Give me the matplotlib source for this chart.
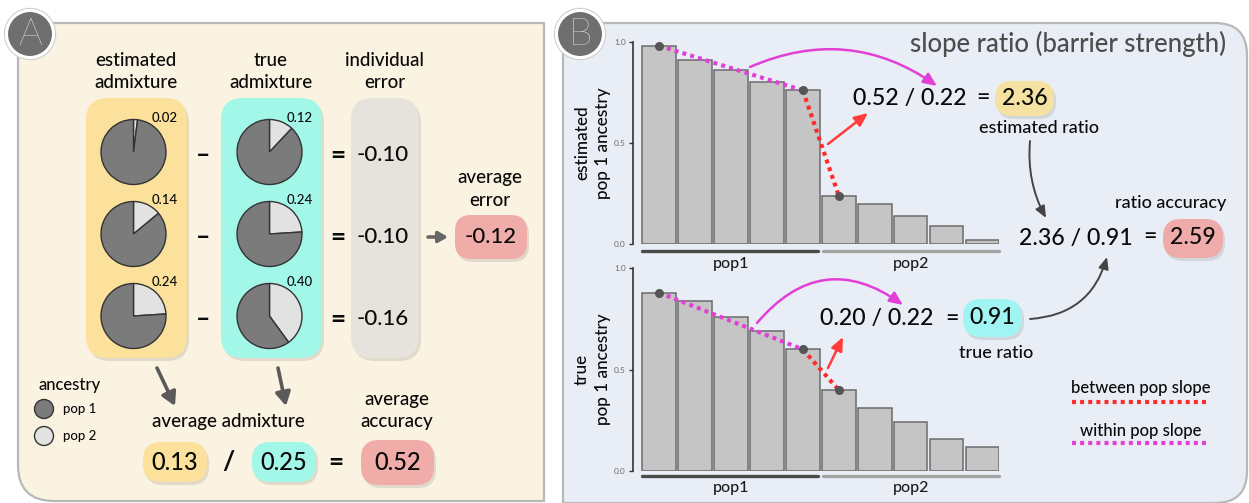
import matplotlib
matplotlib.use("Agg")
import matplotlib.pyplot as plt
from matplotlib.patches import FancyBboxPatch, Circle, PathPatch, FancyArrowPatch
from matplotlib.path import Path

plt.rcParams['font.family'] = ['Lato', 'DejaVu Sans']
plt.rcParams['font.weight'] = 'medium'

# ---------------- data ----------------
est_pop2 = [0.02, 0.14, 0.24]          # estimated admixture (pop 2 share)
true_pop2 = [0.12, 0.24, 0.40]         # true admixture (pop 2 share)
indiv_error = ["-0.10", "-0.10", "-0.16"]
avg_error = "-0.12"
avg_est = "0.13"
avg_true = "0.25"
avg_acc = "0.52"

est_ancestry = [0.98, 0.91, 0.86, 0.80, 0.76, 0.24, 0.20, 0.14, 0.09, 0.02]
true_ancestry = [0.88, 0.84, 0.76, 0.69, 0.60, 0.40, 0.31, 0.24, 0.16, 0.12]
group_names = ["pop1", "pop2"]
yticks = [0.0, 0.5, 1.0]
ytick_labels = ["0.0", "0.5", "1.0"]

est_ratio = ("0.52 / 0.22", "2.36")
true_ratio = ("0.20 / 0.22", "0.91")
ratio_acc = ("2.36 / 0.91", "2.59")

# ---------------- colours ----------------
C_YEL = '#fbe19b'
C_CYA = '#a3f7e9'
C_GRY = '#e6e3dc'
C_PNK = '#f0aca8'
C_YEL2 = '#f5e2a2'
C_CYA2 = '#a0f5f2'
C_PNK2 = '#efaaaa'
C_DARK = '#7b7b7b'
C_LIGHT = '#e2e2e2'
C_MAG = '#e13fd6'
C_RED = '#ff2a2a'
TXT = '#0a0a0a'

W, H = 1249, 503
fig = plt.figure(figsize=(W / 100, H / 100), dpi=100)


def px_axes(x0, y0, w, h, **kw):
    return fig.add_axes([x0 / W, 1 - (y0 + h) / H, w / W, h / H], **kw)


bg = px_axes(0, 0, W, H)
bg.set_xlim(0, W)
bg.set_ylim(H, 0)
bg.axis('off')


def rrect(x0, y0, x1, y1, rtl, rtr, rbr, rbl):
    v, c = [], []
    v += [(x0 + rtl, y0)]; c += [Path.MOVETO]
    v += [(x1 - rtr, y0), (x1, y0), (x1, y0 + rtr)]; c += [Path.LINETO, Path.CURVE3, Path.CURVE3]
    v += [(x1, y1 - rbr), (x1, y1), (x1 - rbr, y1)]; c += [Path.LINETO, Path.CURVE3, Path.CURVE3]
    v += [(x0 + rbl, y1), (x0, y1), (x0, y1 - rbl)]; c += [Path.LINETO, Path.CURVE3, Path.CURVE3]
    v += [(x0, y0 + rtl), (x0, y0), (x0 + rtl, y0)]; c += [Path.LINETO, Path.CURVE3, Path.CURVE3]
    v += [(x0 + rtl, y0)]; c += [Path.CLOSEPOLY]
    return Path(v, c)


# panels
bg.add_patch(PathPatch(rrect(18, 23, 544, 501, 0, 0, 0, 36), facecolor='#fbf3e2',
                       edgecolor='#b8b8b8', lw=1.6))
bg.add_patch(PathPatch(rrect(563, 23, 1247, 503, 0, 32, 32, 0), facecolor='#e9eef6',
                       edgecolor='#b8b8b8', lw=1.6))


def rbox(ax, x0, y0, x1, y1, r, color, shadow=True):
    if shadow:
        ax.add_patch(FancyBboxPatch((x0 + 2, y0 + 3), x1 - x0, y1 - y0,
                                    boxstyle=f"round,pad=0,rounding_size={r}",
                                    facecolor=(0, 0, 0, 0.10), edgecolor='none'))
    ax.add_patch(FancyBboxPatch((x0, y0), x1 - x0, y1 - y0,
                                boxstyle=f"round,pad=0,rounding_size={r}",
                                facecolor=color, edgecolor='none'))


# Panel A column boxes
rbox(bg, 86, 98, 187, 358, 22, C_YEL)
rbox(bg, 221, 98, 322, 358, 22, C_CYA)
rbox(bg, 351, 98, 419, 358, 22, C_GRY)
rbox(bg, 455, 215, 527, 259, 16, C_PNK)
rbox(bg, 143, 442, 207, 482, 18, C_YEL)
rbox(bg, 252, 442, 316, 482, 18, C_CYA)
rbox(bg, 361, 440, 434, 485, 18, C_PNK)
# Panel B value boxes
rbox(bg, 995, 81, 1054, 116, 17, C_YEL2)
rbox(bg, 963, 299, 1022, 337, 18, C_CYA2)
rbox(bg, 1163, 219, 1223, 258, 18, C_PNK2)

# ---------------- pies ----------------
pie_r = 32.5
row_y = [152, 234, 316]
for col_x, vals in [(133.5, est_pop2), (269.5, true_pop2)]:
    for cy, p in zip(row_y, vals):
        s = 2.5 * pie_r
        pax = px_axes(col_x - s / 2, cy - s / 2, s, s)
        pax.pie([p, 1 - p], colors=[C_LIGHT, C_DARK], startangle=90, counterclock=False,
                wedgeprops=dict(edgecolor='#333333', linewidth=1.0))
        pax.set_xlim(-1.25, 1.25)
        pax.set_ylim(-1.25, 1.25)
        pax.set_aspect('equal')

# ---------------- bar charts ----------------
DOT = dict(lw=3.0, dashes=(0.95, 1.0), dash_capstyle='butt')


def bar_panel(top, values, y_under, y_lab):
    ax = px_axes(632.7, top, 366.6, 202.8)
    ax.patch.set_alpha(0)
    xs = list(range(len(values)))
    ax.bar(xs, values, width=0.94, color='#c5c5c5', edgecolor='#6b6b6b', linewidth=1.1)
    ax.set_xlim(-0.737, 9.47)
    ax.set_ylim(0, 1)
    for sp in ['top', 'right', 'bottom']:
        ax.spines[sp].set_visible(False)
    ax.spines['left'].set_color('#333333')
    ax.spines['left'].set_linewidth(1.2)
    ax.set_xticks([])
    ax.set_yticks(yticks)
    ax.set_yticklabels(ytick_labels, fontsize=6, color='#777777')
    ax.tick_params(axis='y', length=3, width=1, color='#333333', pad=2)
    # slopes
    ax.plot([xs[0], xs[4]], [values[0], values[4]], color=C_MAG, clip_on=False, zorder=3, **DOT)
    ax.plot([xs[4], xs[5]], [values[4], values[5]], color=C_RED, clip_on=False, zorder=3, **DOT)
    ax.plot([xs[0], xs[4], xs[5]], [values[0], values[4], values[5]], 'o', color='#555555',
            ms=5.5, clip_on=False, zorder=4)
    # group underlines
    ax.plot([-0.47, 4.41], [y_under, y_under], color='#4a4a4a', lw=2.4, clip_on=False,
            solid_capstyle='round')
    ax.plot([4.57, 9.47], [y_under, y_under], color='#a3a3a3', lw=2.4, clip_on=False,
            solid_capstyle='round')
    ax.text(2, y_lab, group_names[0], ha='center', va='center', fontsize=11.5, color='#1a1a1a')
    ax.text(7, y_lab, group_names[1], ha='center', va='center', fontsize=11.5, color='#1a1a1a')
    return ax


bar_panel(41.7, est_ancestry, -0.03, -0.095)
bar_panel(268.3, true_ancestry, -0.025, -0.082)

# ---------------- foreground overlay ----------------
fg = px_axes(0, 0, W, H)
fg.set_xlim(0, W)
fg.set_ylim(H, 0)
fg.axis('off')
fg.patch.set_alpha(0)
fg.set_zorder(10)


def T(x, y, s, size, color=TXT, **kw):
    kw.setdefault('ha', 'center')
    kw.setdefault('va', 'center')
    fg.text(x, y, s, fontsize=size, color=color, **kw)


# badges
for cx, letter in [(30, 'A'), (580, 'B')]:
    fg.add_patch(Circle((cx, 34), 25.5, facecolor='none', edgecolor='#cfcfcf', lw=1))
    fg.add_patch(Circle((cx, 34), 23.5, facecolor='#6f6f6f', edgecolor='white', lw=2.2))
    T(cx, 35, letter, 27, color='white', fontweight='light')

# Panel A headings
HS = 13.5
T(136, 60, "estimated", HS); T(136, 82, "admixture", HS)
T(271, 60, "true", HS); T(271, 82, "admixture", HS)
T(385, 60, "individual", HS); T(385, 82, "error", HS)

for i, cy in enumerate(row_y):
    T(165, cy - 34, f"{est_pop2[i]:.2f}", 9.5)
    T(300, cy - 34, f"{true_pop2[i]:.2f}", 9.5)
    T(203, cy + 3, "–", 18, fontweight='bold')
    T(338, cy + 3, "=", 19, fontweight='bold')
    T(383, cy + 3, indiv_error[i], 16)

fg.annotate('', xy=(448, 237), xytext=(428, 237),
            arrowprops=dict(arrowstyle='-|>,head_length=0.55,head_width=0.32', color='#666666',
                            lw=2.6, shrinkA=0, shrinkB=0, mutation_scale=10))
T(490, 178, "average", HS); T(490, 200, "error", HS)
T(491, 237, avg_error, 16)

for (x0, y0), (x1, y1) in [((157, 368), (175, 406)), ((278, 368), (286, 406))]:
    fg.annotate('', xy=(x1, y1), xytext=(x0, y0),
                arrowprops=dict(arrowstyle='-|>,head_length=0.8,head_width=0.45', color='#5a5a5a',
                                lw=2.6, shrinkA=0, shrinkB=0, mutation_scale=10))

T(70, 385, "ancestry", 12)
fg.add_patch(Circle((44, 409), 9.5, facecolor=C_DARK, edgecolor='#333333', lw=1))
fg.add_patch(Circle((44, 436), 9.5, facecolor=C_LIGHT, edgecolor='#333333', lw=1))
T(63, 409, "pop 1", 9.5, ha='left')
T(63, 436, "pop 2", 9.5, ha='left')

T(228, 422, "average admixture", HS)
T(397, 400, "average", HS); T(397, 422, "accuracy", HS)
T(175, 462, avg_est, 17)
T(228, 462, "/", 19, fontweight='bold')
T(284, 462, avg_true, 17)
T(336, 462, "=", 19, fontweight='bold')
T(397.5, 462, avg_acc, 17)

# Panel B texts
T(1226, 44, "slope ratio (barrier strength)", 18.5, color='#4d4d4d', ha='right')
BS = 16.7
T(910, 98, est_ratio[0], BS)
T(983, 97, "=", BS)
T(1024.5, 98, est_ratio[1], BS)
T(1039, 128, "estimated ratio", 13)

T(1076, 238, ratio_acc[0], BS)
T(1150, 237, "=", BS)
T(1193, 238, ratio_acc[1], BS)
T(1171, 203, "ratio accuracy", 13)

T(877, 319, true_ratio[0], BS)
T(952, 318, "=", BS)
T(992.5, 318, true_ratio[1], BS)
T(996, 353, "true ratio", 13)

# y labels of bar charts
for cy, first in [(143, "estimated"), (369, "true")]:
    T(582, cy, first, 12.3, rotation=90)
    T(603, cy, "pop 1 ancestry", 12.3, rotation=90)

# legend for slopes
T(1141, 388, "between pop slope", 12)
fg.plot([1072, 1208], [402, 402], color=C_RED, **DOT)
T(1141, 431, "within pop slope", 12)
fg.plot([1072, 1208], [443, 443], color=C_MAG, **DOT)

# arrows in panel B
def arrow(p0, p1, rad, color, lw=1.8, hl=0.8, hw=0.35):
    fg.add_patch(FancyArrowPatch(p0, p1, connectionstyle=f"arc3,rad={rad}",
                                 arrowstyle=f"-|>,head_length={hl},head_width={hw}",
                                 mutation_scale=10, color=color, lw=lw,
                                 shrinkA=0, shrinkB=0))


arrow((750, 67), (937, 86), -0.28, C_MAG)
arrow((757, 323), (903, 305), -0.46, C_MAG)
arrow((828, 144), (868, 113), 0, '#ff3b3b')
arrow((828, 368), (843, 337), 0, '#ff3b3b')
arrow((1030, 141), (1046, 218), 0.15, '#444444', lw=1.4, hl=0.7, hw=0.3)
arrow((1030, 319), (1107, 257), 0.35, '#444444', lw=1.4, hl=0.7, hw=0.3)

fig.savefig("out.png", dpi=100)
